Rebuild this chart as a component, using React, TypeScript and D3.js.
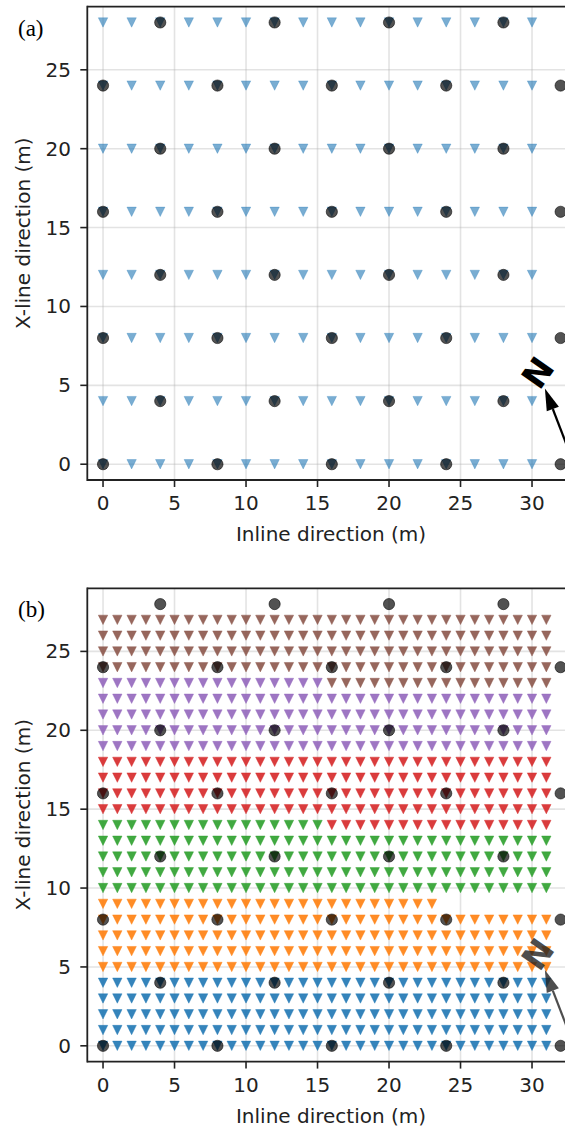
import React from "react";
import * as d3 from "d3";

// ---------- data ----------
const xTicks = [0, 5, 10, 15, 20, 25, 30];
const yTicks = [0, 5, 10, 15, 20, 25];

// panel (a): receiver stations (inline) and receiver lines (x-line)
const receiverXA = [0, 2, 4, 6, 8, 10, 12, 14, 16, 18, 20, 22, 24, 26, 28, 30];
const receiverYA = [0, 4, 8, 12, 16, 20, 24, 28];

// sources (both panels)
const sourceX = [0, 8, 16, 24, 32, 4, 12, 20, 28, 0, 8, 16, 24, 32, 4, 12, 20, 28, 0, 8, 16, 24, 32, 4, 12, 20, 28, 0, 8, 16, 24, 32, 4, 12, 20, 28];
const sourceY = [0, 0, 0, 0, 0, 4, 4, 4, 4, 8, 8, 8, 8, 8, 12, 12, 12, 12, 16, 16, 16, 16, 16, 20, 20, 20, 20, 24, 24, 24, 24, 24, 28, 28, 28, 28];

// panel (b): dense receivers split into groups
const receiverXB = [0, 1, 2, 3, 4, 5, 6, 7, 8, 9, 10, 11, 12, 13, 14, 15, 16, 17, 18, 19, 20, 21, 22, 23, 24, 25, 26, 27, 28, 29, 30, 31];
const groupBlocks = [
  { group: 0, rows: [0, 1, 2, 3, 4], xMin: 0, xMax: 31 },
  { group: 1, rows: [5, 6, 7, 8], xMin: 0, xMax: 31 },
  { group: 1, rows: [9], xMin: 0, xMax: 23 },
  { group: 2, rows: [10, 11, 12, 13], xMin: 0, xMax: 31 },
  { group: 2, rows: [14], xMin: 0, xMax: 15 },
  { group: 3, rows: [14], xMin: 16, xMax: 31 },
  { group: 3, rows: [15, 16, 17, 18], xMin: 0, xMax: 31 },
  { group: 4, rows: [19, 20, 21, 22], xMin: 0, xMax: 31 },
  { group: 4, rows: [23], xMin: 0, xMax: 15 },
  { group: 5, rows: [23], xMin: 16, xMax: 31 },
  { group: 5, rows: [24, 25, 26, 27], xMin: 0, xMax: 31 },
];
const groupColors = ["#1f77b4", "#ff7f0e", "#2ca02c", "#d62728", "#9467bd", "#8c564b"];

// north arrow (data coords)
const arrowTip = [30.9, 4.8];
const arrowTail = [33.2, -0.6];
const northLabelPos = [30.4, 5.8];

// ---------- layout ----------
const W = 565;
const H = 1128;
const plotLeft = 87.3;
const plotRight = 583.5;
const plotH = 473.3;
const panelTops = [6.7, 588.3];
const FONT = "DejaVu Sans, Verdana, sans-serif";

const xScale = d3.scaleLinear().domain([-1.1, 33.6]).range([plotLeft, plotRight]);

function tri(cx: number, cy: number, s: number) {
  return `M${cx - s},${cy - s}L${cx + s},${cy - s}L${cx},${cy + s}Z`;
}

function Panel({ idx }: { idx: number }) {
  const top = panelTops[idx];
  const bottom = top + plotH;
  const y = d3.scaleLinear().domain([-1, 29]).range([bottom, top]);
  const clipId = `clip${idx}`;

  const tris: { x: number; y: number; c: string; o: number }[] = [];
  if (idx === 0) {
    receiverYA.forEach((ry) =>
      receiverXA.forEach((rx) => tris.push({ x: rx, y: ry, c: "#1f77b4", o: 0.6 }))
    );
  } else {
    groupBlocks.forEach((b) =>
      b.rows.forEach((ry) =>
        receiverXB.filter((rx) => rx >= b.xMin && rx <= b.xMax).forEach((rx) =>
          tris.push({ x: rx, y: ry, c: groupColors[b.group], o: 0.9 })
        )
      )
    );
  }

  const tipX = xScale(arrowTip[0]);
  const tipY = y(arrowTip[1]);
  const tailX = xScale(arrowTail[0]);
  const tailY = y(arrowTail[1]);
  const ang = Math.atan2(tipY - tailY, tipX - tailX);
  const hl = 22;
  const hw = 6.5;
  const bx = tipX - hl * Math.cos(ang);
  const by = tipY - hl * Math.sin(ang);
  const px = -Math.sin(ang);
  const py = Math.cos(ang);
  const arrowColor = idx === 0 ? "#000" : "#222";
  const arrowOp = idx === 0 ? 1 : 0.8;

  return (
    <g>
      <defs>
        <clipPath id={clipId}>
          <rect x={plotLeft} y={top} width={plotRight - plotLeft} height={plotH} />
        </clipPath>
      </defs>
      {/* grid */}
      <g stroke="#b0b0b0" strokeOpacity={0.35} strokeWidth={1.6}>
        {xTicks.map((t) => (
          <line key={"gx" + t} x1={xScale(t)} x2={xScale(t)} y1={top} y2={bottom} />
        ))}
        {yTicks.map((t) => (
          <line key={"gy" + t} x1={plotLeft} x2={plotRight} y1={y(t)} y2={y(t)} />
        ))}
      </g>
      {/* marks */}
      <g clipPath={`url(#${clipId})`}>
        {tris.map((d, i) => (
          <path
            key={"t" + i}
            d={tri(xScale(d.x), y(d.y), 4.7)}
            fill={d.c}
            fillOpacity={d.o}
            stroke={d.c}
            strokeOpacity={d.o * 0.6}
            strokeWidth={0.8}
          />
        ))}
        {sourceX.map((sx, i) => (
          <circle
            key={"s" + i}
            cx={xScale(sx)}
            cy={y(sourceY[i])}
            r={5.6}
            fill="#000"
            fillOpacity={0.68}
            stroke="#000"
            strokeOpacity={0.55}
            strokeWidth={1}
          />
        ))}
      </g>
      {/* spines */}
      <g stroke="#222" strokeWidth={1.8} fill="none">
        <line x1={plotLeft} x2={plotLeft} y1={top - 0.9} y2={bottom + 0.9} />
        <line x1={plotLeft} x2={plotRight} y1={top} y2={top} />
        <line x1={plotLeft} x2={plotRight} y1={bottom} y2={bottom} />
      </g>
      {/* ticks */}
      <g stroke="#222" strokeWidth={1.6}>
        {xTicks.map((t) => (
          <line key={"tx" + t} x1={xScale(t)} x2={xScale(t)} y1={bottom} y2={bottom + 7} />
        ))}
        {yTicks.map((t) => (
          <line key={"ty" + t} x1={plotLeft - 7} x2={plotLeft} y1={y(t)} y2={y(t)} />
        ))}
      </g>
      <g fontFamily={FONT} fontSize={20} fill="#222">
        {xTicks.map((t) => (
          <text key={"lx" + t} x={xScale(t)} y={bottom + 30} textAnchor="middle">
            {t}
          </text>
        ))}
        {yTicks.map((t) => (
          <text key={"ly" + t} x={71} y={y(t) + 7} textAnchor="end">
            {t}
          </text>
        ))}
        <text x={331} y={bottom + 61} textAnchor="middle">
          Inline direction (m)
        </text>
        <text
          transform={`translate(30,${top + 226.5}) rotate(-90)`}
          textAnchor="middle"
        >
          X-line direction (m)
        </text>
      </g>
      <text
        x={18}
        y={top + 29}
        fontFamily="Liberation Serif, Times New Roman, serif"
        fontSize={23}
        fill="#000"
      >
        {idx === 0 ? "(a)" : "(b)"}
      </text>
      {/* north arrow */}
      <g opacity={arrowOp}>
        <line x1={tailX} y1={tailY} x2={bx} y2={by} stroke={arrowColor} strokeWidth={2.2} />
        <path
          d={`M${tipX},${tipY}L${bx + hw * px},${by + hw * py}L${bx - hw * px},${by - hw * py}Z`}
          fill={arrowColor}
        />
        <text
          transform={`translate(${xScale(northLabelPos[0])},${y(northLabelPos[1])}) rotate(-55)`}
          textAnchor="middle"
          dominantBaseline="central"
          fontFamily={FONT}
          fontWeight="bold"
          fontSize={34}
          fill={arrowColor}
        >
          N
        </text>
      </g>
    </g>
  );
}

export default function App() {
  return (
    <svg
      width={W}
      height={H}
      viewBox={`0 0 ${W} ${H}`}
      style={{ position: "absolute", left: 0, top: 0, background: "#fff" }}
    >
      <rect width={W} height={H} fill="#fff" />
      <Panel idx={0} />
      <Panel idx={1} />
    </svg>
  );
}
